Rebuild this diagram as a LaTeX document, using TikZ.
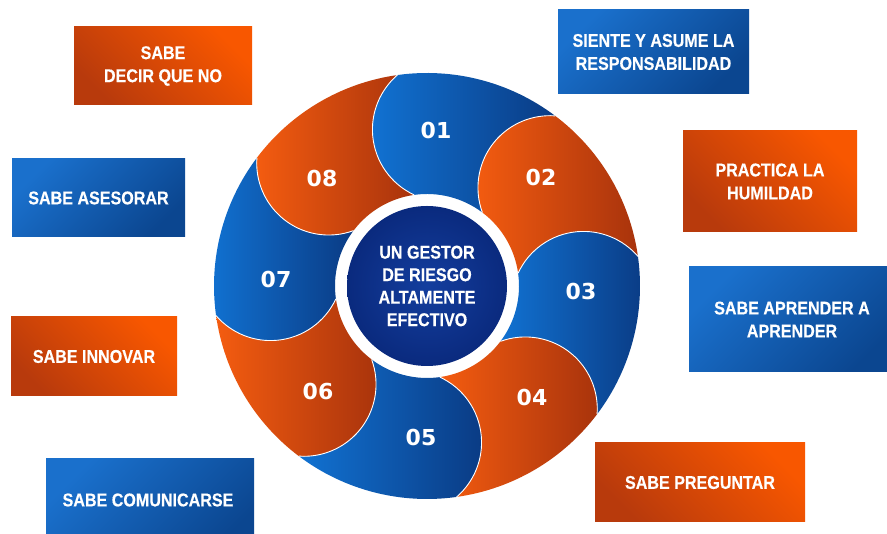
\documentclass[tikz,border=0pt]{standalone}
\usepackage{fontspec}
\newfontfamily\boxfont{Liberation Sans}[FakeStretch=0.87, BoldFeatures={FakeBold=0.35}]
\newfontfamily\numfont{DejaVu Sans}
\definecolor{bluL}{HTML}{1172D2}
\definecolor{bluD}{HTML}{0A3B84}
\definecolor{orL}{HTML}{F45C10}
\definecolor{orD}{HTML}{A8330C}
\definecolor{bxbL}{HTML}{1A70CC}
\definecolor{bxbD}{HTML}{0B4690}
\definecolor{bxoL}{HTML}{F85700}
\definecolor{bxoD}{HTML}{B83A0C}
\definecolor{navyL}{HTML}{143E9E}
\definecolor{navyD}{HTML}{0A2A7E}
\tikzset{
  boxtext/.style={text=white, align=center, font=\boxfont\bfseries\fontsize{18.5}{23}\selectfont},
  bluebox/.style={boxtext, bottom color=bxbD, top color=bxbL, shading angle=45},
  orangebox/.style={boxtext, bottom color=bxoD, top color=bxoL, shading angle=-45},
  numlabel/.style={text=white, font=\numfont\bfseries\fontsize{22}{26}\selectfont},
  headline/.style={draw=white, line width=0.9pt}
}
\begin{document}
\begin{tikzpicture}[x=1pt,y=1pt]
\clip (0,0) rectangle (887,534);
\fill[white] (0,0) rectangle (887,534);
% outer boxes
\path[orangebox] (74,429) rectangle (252,507);
\node[boxtext] (b1) at (163,468) {SABE\\DECIR QUE NO};
\path[bluebox] (558,440) rectangle (749,524);
\node[boxtext] (b2) at (653.5,482) {SIENTE Y ASUME LA\\RESPONSABILIDAD};
\path[bluebox] (12,297) rectangle (185,375);
\node[boxtext] (b3) at (98.5,336) {SABE ASESORAR};
\path[orangebox] (683,302) rectangle (857,403);
\node[boxtext] (b4) at (770,352.5) {PRACTICA LA\\HUMILDAD};
\path[bluebox] (689,162) rectangle (897,267);
\node[boxtext] (b5) at (792,214.5) {SABE APRENDER A\\APRENDER};
\path[orangebox] (11,138) rectangle (177,217);
\node[boxtext] (b6) at (94,177.5) {SABE INNOVAR};
\path[orangebox] (595,12) rectangle (805,91);
\node[boxtext] (b7) at (700,51.5) {SABE PREGUNTAR};
\path[bluebox] (46,-20) rectangle (254,75);
\node[boxtext] (b8) at (148,34) {SABE COMUNICARSE};
% ring
\begin{scope}[shift={(427,248)}]
\foreach \k/\lc/\dc in {1/bluL/bluD,2/orL/orD,3/bluL/bluD,4/orL/orD,5/bluL/bluD,6/orL/orD,7/bluL/bluD,8/orL/orD}{
  \pgfmathsetmacro{\a}{98-45*(\k-1)}
  \pgfmathsetmacro{\b}{\a-45}
  \path[left color=\lc, right color=\dc]
    (\a:213) arc[start angle=\a, end angle=\b, radius=213]
    arc[start angle=\b+32.83, end angle=\b+147.17, radius=72]
    arc[start angle=\b, end angle=\a, radius=92]
    arc[start angle=\a+147.17, end angle=\a+32.83, radius=72] -- cycle;
}
\foreach \k in {1,...,8}{
  \pgfmathsetmacro{\a}{98-45*(\k-1)}
  \draw[headline] (\a:92) arc[start angle=\a+147.17, end angle=\a+32.83, radius=72];
}
\shade[inner color=navyL, outer color=navyD] (0,0) circle[radius=80];
\end{scope}
\node[boxtext, font=\boxfont\bfseries\fontsize{18.5}{22.5}\selectfont] (center) at (427,248) {UN GESTOR\\DE RIESGO\\ALTAMENTE\\EFECTIVO};
\node[numlabel] (n1) at (436,403) {01};
\node[numlabel] (n2) at (541,356) {02};
\node[numlabel] (n3) at (581,242) {03};
\node[numlabel] (n4) at (532,137) {04};
\node[numlabel] (n5) at (421,97) {05};
\node[numlabel] (n6) at (318,142) {06};
\node[numlabel] (n7) at (276,254) {07};
\node[numlabel] (n8) at (322,355) {08};
\end{tikzpicture}
\end{document}
